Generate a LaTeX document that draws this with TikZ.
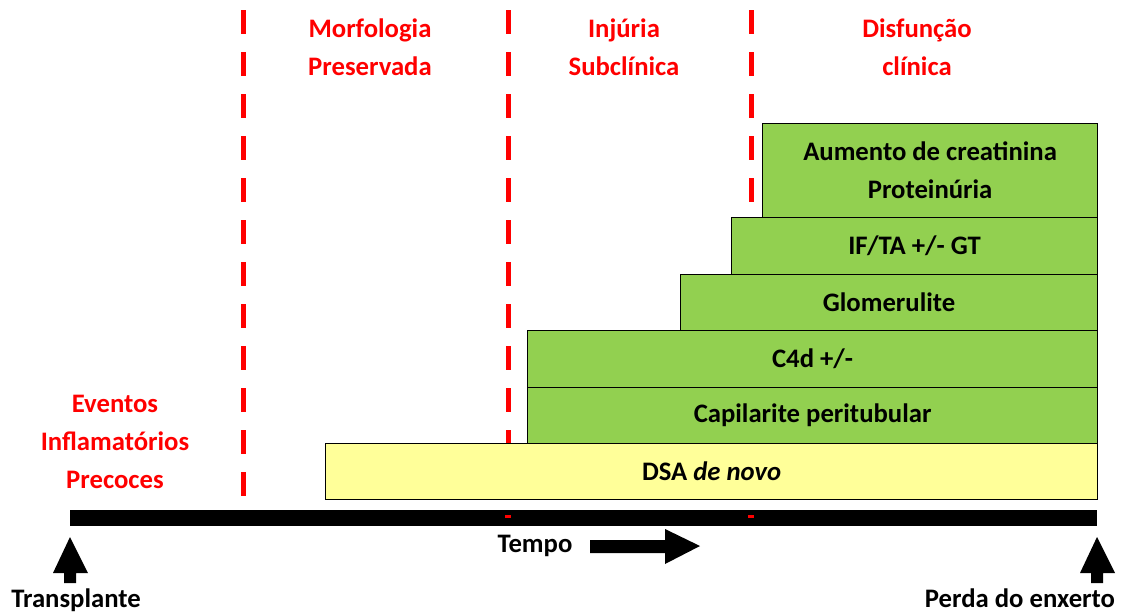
\documentclass[tikz,border=0pt]{standalone}
\usepackage{fontspec}
\setmainfont{Carlito}
\definecolor{boxgreen}{HTML}{92D050}
\definecolor{boxyellow}{HTML}{FFFF99}
\definecolor{phasered}{HTML}{FF0000}
\begin{document}
\begin{tikzpicture}[x=1pt,y=-1pt,
    every node/.style={font=\fontsize{26.7}{38}\selectfont\bfseries},
    stage/.style={rectangle,draw,line width=1.2pt,anchor=north west,inner sep=0pt},
    phase/.style={text=phasered,align=center},
    divider/.style={phasered,line width=5pt,dash pattern=on 24pt off 18pt}]
    \useasboundingbox (0,0) rectangle (1122,614);
    % fases
    \draw[divider] (243,10) -- (243,500);
    \draw[divider] (508,10) -- (508,443);
    \draw[divider] (751,10) -- (751,216);
    \node(morf)[phase] at (370,47){Morfologia\\Preservada};
    \node(inj)[phase] at (624,47){Injúria\\Subclínica};
    \node(disf)[phase] at (917,47){Disfunção\\clínica};
    \node(event)[phase] at (115,442){Eventos\\Inflamatórios\\Precoces};
    % achados
    \node(dsa)[stage,fill=boxyellow,minimum width=772,minimum height=56] at (325,443){};
    \node at (dsa.center){DSA \textit{de novo}};
    \node(cap)[stage,fill=boxgreen,minimum width=570,minimum height=56] at (527,387){};
    \node at (cap.center){Capilarite peritubular};
    \node(c4d)[stage,fill=boxgreen,minimum width=570,minimum height=57] at (527,330){};
    \node at (c4d.center){C4d +/-};
    \node(glom)[stage,fill=boxgreen,minimum width=417,minimum height=56] at (680,274){};
    \node at (glom.center){Glomerulite};
    \node(ifta)[stage,fill=boxgreen,minimum width=366,minimum height=57] at (731,217){};
    \node at (ifta.center){IF/TA +/- GT};
    \node(creat)[stage,fill=boxgreen,minimum width=335,minimum height=94] at (762,123){};
    \node[align=center] at (creat.center){Aumento de creatinina\\Proteinúria};
    % linha do tempo
    \fill (70,510) rectangle (1097,526);
    \fill[phasered] (505,515) rectangle (511,518);
    \fill[phasered] (748,515) rectangle (754,518);
    \fill (64,583) -- (64,573) -- (53,573) -- (70,537) -- (88,573) -- (76,573) -- (76,583) -- cycle;
    \fill (1091,583) -- (1091,573) -- (1080,573) -- (1097,537) -- (1115,573) -- (1103,573) -- (1103,583) -- cycle;
    \fill (590,540) -- (665,540) -- (665,529) -- (700,546) -- (665,564) -- (665,553) -- (590,553) -- cycle;
    \node(tempo) at (535,546){Tempo};
    \node(tx) at (76,600){Transplante};
    \node(perda) at (1020,598){Perda do enxerto};
\end{tikzpicture}
\end{document}
